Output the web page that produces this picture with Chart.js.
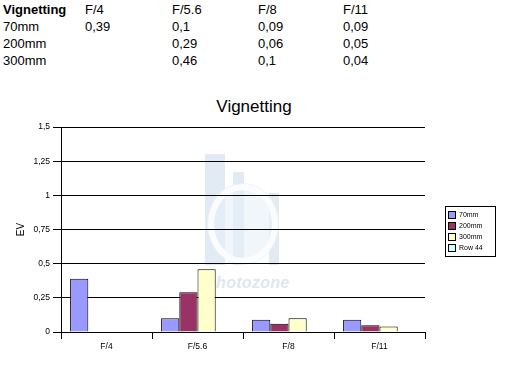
<!DOCTYPE html>
<html>
<head>
<meta charset="utf-8">
<script src="https://cdn.jsdelivr.net/npm/chart.js@4.4.0/dist/chart.umd.min.js"></script>
<style>
  body { margin: 0; background: #fff; font-family: "Liberation Sans", Arial, sans-serif; }
  #wrap { position: relative; width: 512px; height: 376px; overflow: hidden; }
  #chart { position: absolute; left: 0; top: 0; }
  .cell { position: absolute; font-size: 13px; line-height: 17px; color: #000; white-space: nowrap; }
  .bold { font-weight: bold; }
  #title { position: absolute; left: 154px; width: 200px; top: 97px; text-align: center;
           font-size: 17px; line-height: 20px; color: #000; }
  .wm { position: absolute; background: #e2eaf3; }
  #ring { position: absolute; left: 208px; top: 184px; width: 58px; height: 68px;
          border: 6px solid #fbfcfd; border-radius: 50%; box-shadow: 0 0 0 1px #eef1f5; background: rgba(232,240,248,0.6); }
  #wmtext { position: absolute; left: 206px; top: 274px; font-size: 16px; font-style: italic;
            font-weight: bold; color: #dfe6ee; letter-spacing: 0.3px; }
</style>
</head>
<body>
<div id="wrap">
  <div class="wm" style="left:205px;top:154px;width:20px;height:111px"></div>
  <div class="wm" style="left:233px;top:172px;width:11px;height:93px"></div>
  <div class="wm" style="left:269px;top:193px;width:10px;height:72px"></div>
  <div id="ring"></div>
  <div id="wmtext">photozone</div>
  <div id="table"></div>
  <div id="title">Vignetting</div>
  <canvas id="chart" width="512" height="376"></canvas>
</div>
<script>
const apertures = ['F/4', 'F/5.6', 'F/8', 'F/11'];
const seriesNames = ['70mm', '200mm', '300mm', 'Row 44'];
const ev70 = [0.39, 0.1, 0.09, 0.09];
const ev200 = [null, 0.29, 0.06, 0.05];
const ev300 = [null, 0.46, 0.1, 0.04];
const evRow44 = [null, null, null, null];
const yTickLabels = ['0', '0,25', '0,5', '0,75', '1', '1,25', '1,5'];

const seriesColors = ['#9999ff', '#993366', '#ffffcc', '#ccffff'];
const allSeries = [ev70, ev200, ev300, evRow44];

// data table above the chart
const table = document.getElementById('table');
const colX = [3, 85, 172, 258, 343];
function addCell(text, x, y, bold) {
    const d = document.createElement('div');
    d.className = 'cell' + (bold ? ' bold' : '');
    d.style.left = x + 'px';
    d.style.top = y + 'px';
    d.textContent = text;
    table.appendChild(d);
}
addCell('Vignetting', colX[0], 1, true);
apertures.forEach((a, i) => addCell(a, colX[i + 1], 1));
for (let r = 0; r < 3; r++) {
    addCell(seriesNames[r], colX[0], 18 + r * 17);
    allSeries[r].forEach((v, i) => {
        if (v !== null) addCell(String(v).replace('.', ','), colX[i + 1], 18 + r * 17);
    });
}

Chart.defaults.font.family = '"Liberation Sans", Arial, sans-serif';
Chart.defaults.color = '#000';

// Excel style legend box
const boxLegend = {
    id: 'boxLegend',
    afterDraw(chart) {
        const ctx = chart.ctx;
        ctx.save();
        ctx.strokeStyle = '#000';
        ctx.lineWidth = 1;
        ctx.strokeRect(445.5, 206.5, 50, 50);
        ctx.font = '7px "Liberation Sans", Arial, sans-serif';
        ctx.textBaseline = 'middle';
        chart.data.datasets.forEach((ds, i) => {
            const y = 211.5 + i * 11;
            ctx.fillStyle = ds.backgroundColor;
            ctx.fillRect(448.5, y, 7, 7);
            ctx.strokeRect(448.5, y, 7, 7);
            ctx.fillStyle = '#000';
            ctx.fillText(ds.label, 459, y + 4);
        });
        ctx.restore();
    }
};

new Chart(document.getElementById('chart'), {
    type: 'bar',
    data: {
        labels: apertures,
        datasets: seriesNames.map((name, i) => ({
            label: name,
            data: allSeries[i],
            backgroundColor: seriesColors[i],
            borderColor: '#000',
            borderWidth: 1,
            categoryPercentage: 0.8,
            barPercentage: 1
        }))
    },
    options: {
        responsive: false,
        animation: false,
        layout: { padding: { top: 127, right: 87, bottom: 0, left: 0 } },
        plugins: {
            legend: { display: false },
            title: { display: false },
            tooltip: { enabled: false }
        },
        scales: {
            x: {
                grid: { drawOnChartArea: false, color: '#000', tickLength: 7 },
                border: { color: '#000' },
                ticks: { font: { size: 8.5 }, padding: 3, maxRotation: 0 },
                afterFit(scale) { scale.height = 44; }
            },
            y: {
                min: 0,
                max: 1.5,
                ticks: {
                    stepSize: 0.25,
                    font: { size: 8.5 },
                    padding: 3,
                    callback: (v, i) => yTickLabels[i]
                },
                grid: { color: '#000', tickLength: 8 },
                border: { color: '#000' },
                title: { display: true, text: 'EV', font: { size: 10 }, padding: { top: 15, bottom: 0 } },
                afterFit(scale) { scale.width = 61; }
            }
        }
    },
    plugins: [boxLegend]
});
</script>
</body>
</html>
